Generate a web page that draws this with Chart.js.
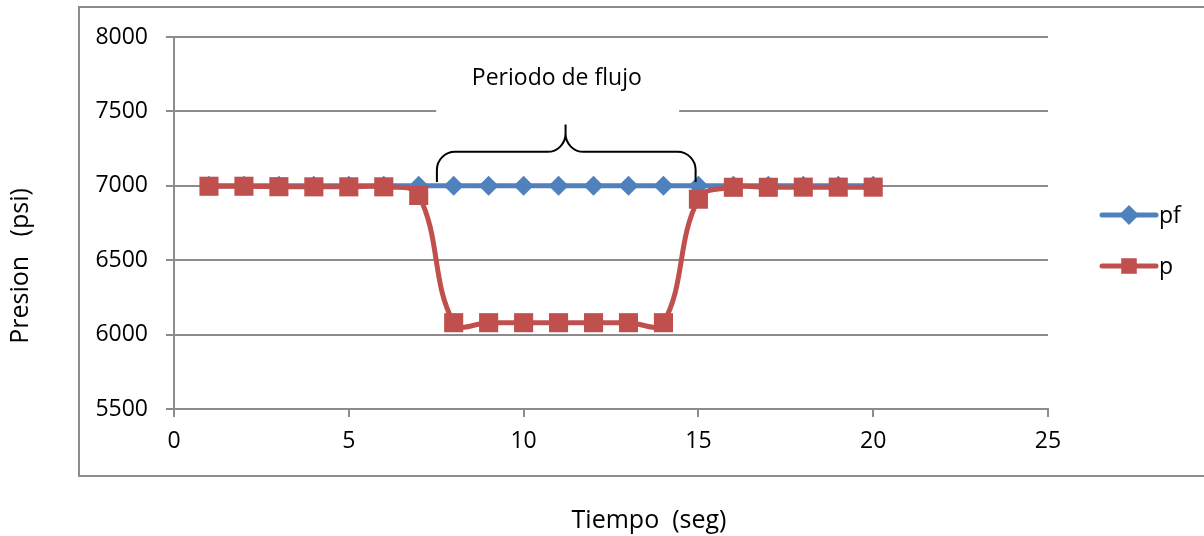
<!DOCTYPE html>
<html>
<head>
<meta charset="utf-8">
<script src="https://cdn.jsdelivr.net/npm/chart.js@4/dist/chart.umd.min.js"></script>
<style>
  body { margin: 0; background: #fff; }
  #wrap { width: 1204px; height: 536px; }
</style>
</head>
<body>
<div id="wrap"><canvas id="presion-chart" width="1204" height="536"></canvas></div>
<script>
// Datos
var tiempo = [1, 2, 3, 4, 5, 6, 7, 8, 9, 10, 11, 12, 13, 14, 15, 16, 17, 18, 19, 20];
var pfArray = [7000, 7000, 7000, 7000, 7000, 7000, 7000, 7000, 7000, 7000,
               7000, 7000, 7000, 7000, 7000, 7000, 7000, 7000, 7000, 7000];
var pArray = [6997, 6997, 6994, 6993, 6993, 6993, 6935, 6080, 6080, 6080,
              6080, 6080, 6080, 6080, 6910, 6990, 6990, 6991, 6991, 6991];
var yTicks = [5500, 6000, 6500, 7000, 7500, 8000];
var xTicks = [0, 5, 10, 15, 20, 25];

var fuente = '"Open Sans", Lato, sans-serif';
var azul = '#4F81BD';
var rojo = '#C0504D';

function puntos(valores) {
    return tiempo.map(function (t, i) { return { x: t, y: valores[i] }; });
}

// Marco, titulos de ejes, leyenda y la llave del periodo de flujo
var decoracion = {
    id: 'decoracion',
    beforeDraw: function (chart) {
        var ctx = chart.ctx;
        ctx.save();
        ctx.fillStyle = '#fff';
        ctx.fillRect(0, 0, chart.width, chart.height);
        ctx.strokeStyle = '#8c8c8c';
        ctx.lineWidth = 2;
        ctx.strokeRect(79, 7, 1140, 469);
        ctx.restore();
    },
    afterDatasetsDraw: function (chart) {
        var ctx = chart.ctx;
        var xs = chart.scales.x, ys = chart.scales.y;
        ctx.save();
        // caja blanca del texto
        ctx.fillStyle = '#fff';
        ctx.fillRect(xs.getPixelForValue(7.5), 52, xs.getPixelForValue(14.45) - xs.getPixelForValue(7.5), 68);
        ctx.fillStyle = '#000';
        ctx.font = '23px ' + fuente;
        ctx.textAlign = 'center';
        ctx.textBaseline = 'middle';
        ctx.fillText('Periodo de flujo', xs.getPixelForValue(10.95), 78);

        // llave
        var x0 = xs.getPixelForValue(7.52), x1 = xs.getPixelForValue(14.92), xm = xs.getPixelForValue(11.2);
        var yb = ys.getPixelForValue(7025), yf = ys.getPixelForValue(7228), yt = ys.getPixelForValue(7412);
        var r = 18;
        ctx.strokeStyle = '#000';
        ctx.lineWidth = 2;
        ctx.beginPath();
        ctx.moveTo(x0, yb);
        ctx.lineTo(x0, yf + r);
        ctx.arcTo(x0, yf, x0 + r, yf, r);
        ctx.lineTo(xm - r, yf);
        ctx.arcTo(xm, yf, xm, yf - r, r);
        ctx.lineTo(xm, yt);
        ctx.moveTo(xm, yf - r);
        ctx.arcTo(xm, yf, xm + r, yf, r);
        ctx.lineTo(x1 - r, yf);
        ctx.arcTo(x1, yf, x1, yf + r, r);
        ctx.lineTo(x1, yb);
        ctx.stroke();

        // leyenda
        var items = [
            { label: 'pf', color: azul, forma: 'rectRot', radio: 10, y: 215 },
            { label: 'p', color: rojo, forma: 'rect', radio: 11, y: 266 }
        ];
        items.forEach(function (it) {
            ctx.strokeStyle = it.color;
            ctx.lineWidth = 5;
            ctx.lineCap = 'round';
            ctx.beginPath();
            ctx.moveTo(1102, it.y);
            ctx.lineTo(1156, it.y);
            ctx.stroke();
            ctx.fillStyle = it.color;
            Chart.helpers.drawPoint(ctx, { pointStyle: it.forma, radius: it.radio, borderWidth: 0 }, 1129, it.y);
            ctx.fillStyle = '#000';
            ctx.textAlign = 'left';
            ctx.font = '23px ' + fuente;
            ctx.fillText(it.label, 1159, it.y + 1);
        });

        // titulos de ejes
        ctx.font = '25px ' + fuente;
        ctx.textAlign = 'center';
        ctx.fillText('Tiempo  (seg)', 649, 521);
        ctx.translate(21, 266);
        ctx.rotate(-Math.PI / 2);
        ctx.fillText('Presion   (psi)', 0, 0);
        ctx.restore();
    }
};

var ctx = document.getElementById('presion-chart').getContext('2d');
var presionChart = new Chart(ctx, {
    type: 'line',
    data: {
        datasets: [{
            label: 'pf',
            data: puntos(pfArray),
            borderColor: azul,
            backgroundColor: azul,
            borderWidth: 5,
            pointStyle: 'rectRot',
            pointRadius: 10,
            pointBorderWidth: 0,
            tension: 0.4,
            fill: false,
            order: 2
        }, {
            label: 'p',
            data: puntos(pArray),
            borderColor: rojo,
            backgroundColor: rojo,
            borderWidth: 5,
            pointStyle: 'rect',
            pointRadius: 13.5,
            pointBorderWidth: 0,
            tension: 0.4,
            fill: false,
            order: 1
        }]
    },
    options: {
        responsive: false,
        animation: false,
        layout: { padding: { top: 37, right: 156, left: 0, bottom: 0 } },
        plugins: {
            legend: { display: false },
            tooltip: { enabled: false }
        },
        scales: {
            x: {
                type: 'linear',
                min: 0,
                max: 25,
                afterFit: function (s) { s.height = 127; },
                afterBuildTicks: function (s) { s.ticks = xTicks.map(function (v) { return { value: v }; }); },
                grid: { drawOnChartArea: false, tickLength: 8, color: '#8c8c8c', lineWidth: 2 },
                border: { color: '#8c8c8c', width: 2 },
                ticks: {
                    color: '#000', padding: 11, font: { family: fuente, size: 23 },
                    callback: function (v) { return String(v); }
                }
            },
            y: {
                min: 5500,
                max: 8000,
                afterFit: function (s) { s.width = 174; },
                afterBuildTicks: function (s) { s.ticks = yTicks.map(function (v) { return { value: v }; }); },
                grid: { tickLength: 8, color: '#8c8c8c', lineWidth: 2 },
                border: { color: '#8c8c8c', width: 2 },
                ticks: {
                    color: '#000', padding: 18, font: { family: fuente, size: 23 },
                    callback: function (v) { return String(v); }
                }
            }
        }
    },
    plugins: [decoracion]
});
</script>
</body>
</html>
